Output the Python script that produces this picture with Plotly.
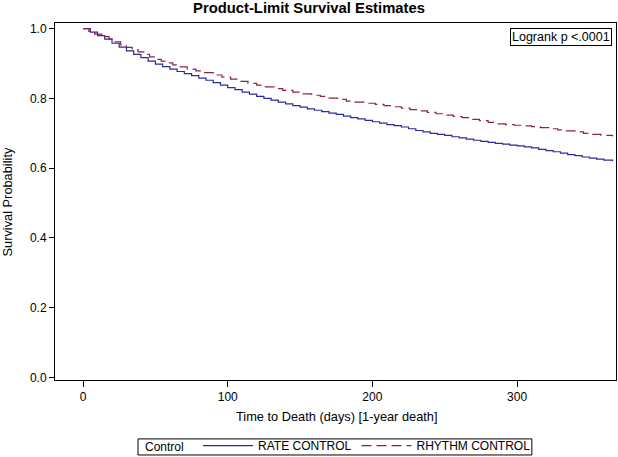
import plotly.graph_objects as go

# RATE CONTROL (solid blue) Kaplan-Meier estimates
rate_days = [0, 5, 10, 15, 20, 25, 30, 35, 40, 45, 50, 55, 60, 65, 70, 75, 80, 85, 90, 95,
             100, 105, 110, 115, 120, 125, 130, 135, 140, 145, 150, 155, 160, 165, 170, 175,
             180, 185, 190, 195, 200, 205, 210, 215, 220, 225, 230, 235, 240, 245, 250, 255,
             260, 265, 270, 275, 280, 285, 290, 295, 300, 305, 310, 315, 320, 325, 330, 335,
             340, 345, 350, 355, 360, 366]
rate_surv = [1.000, 0.990, 0.980, 0.970, 0.958, 0.947, 0.936, 0.926, 0.917, 0.907, 0.898,
             0.891, 0.884, 0.877, 0.871, 0.865, 0.858, 0.852, 0.845, 0.838, 0.831, 0.825,
             0.818, 0.812, 0.806, 0.800, 0.795, 0.789, 0.784, 0.779, 0.775, 0.770, 0.766,
             0.762, 0.758, 0.754, 0.749, 0.745, 0.741, 0.737, 0.733, 0.729, 0.725, 0.722,
             0.718, 0.713, 0.708, 0.704, 0.700, 0.697, 0.694, 0.690, 0.687, 0.683, 0.680,
             0.677, 0.674, 0.671, 0.669, 0.666, 0.664, 0.661, 0.658, 0.654, 0.650, 0.647,
             0.643, 0.639, 0.636, 0.632, 0.629, 0.626, 0.623, 0.620]

# RHYTHM CONTROL (dashed red) Kaplan-Meier estimates
rhythm_days = [0, 4, 8, 13, 18, 22, 26, 30, 34, 38, 42, 46, 50, 54, 58, 62, 66, 72, 78, 84,
               90, 96, 102, 108, 114, 120, 126, 132, 138, 145, 152, 158, 164, 170, 176, 182,
               188, 195, 202, 208, 214, 220, 226, 232, 238, 244, 250, 256, 262, 268, 274, 280,
               286, 292, 298, 304, 310, 316, 322, 328, 334, 340, 346, 352, 358, 366]
rhythm_surv = [1.000, 0.992, 0.984, 0.977, 0.970, 0.962, 0.953, 0.946, 0.940, 0.933, 0.926,
               0.919, 0.912, 0.907, 0.902, 0.896, 0.890, 0.884, 0.879, 0.874, 0.867, 0.861,
               0.855, 0.849, 0.843, 0.838, 0.833, 0.828, 0.823, 0.818, 0.813, 0.809, 0.806,
               0.801, 0.797, 0.792, 0.789, 0.786, 0.783, 0.779, 0.776, 0.772, 0.768, 0.764,
               0.760, 0.756, 0.752, 0.748, 0.745, 0.740, 0.736, 0.731, 0.727, 0.725, 0.723,
               0.721, 0.719, 0.716, 0.713, 0.710, 0.707, 0.704, 0.700, 0.697, 0.694, 0.691]

x_ticks = [0, 100, 200, 300]
y_ticks = [0.0, 0.2, 0.4, 0.6, 0.8, 1.0]

FONT = "Liberation Sans, Arial, sans-serif"

fig = go.Figure()
fig.add_trace(go.Scatter(x=rate_days, y=rate_surv, mode="lines", line_shape="hv",
                         name="RATE CONTROL", line=dict(color="#2B2B9B", width=1.2)))
fig.add_trace(go.Scatter(x=rhythm_days, y=rhythm_surv, mode="lines", line_shape="hv",
                         name="RHYTHM CONTROL",
                         line=dict(color="#8E2343", width=1.2, dash="10px,5px")))

fig.update_layout(
    width=618, height=457,
    margin=dict(l=55, r=2, t=23, b=77, autoexpand=False),
    paper_bgcolor="white", plot_bgcolor="white",
    font=dict(family=FONT, size=12, color="black"),
    title=dict(text="<b>Product-Limit Survival Estimates</b>", x=0.5, xanchor="center",
               y=0.995, yanchor="top", font=dict(size=14.8, family=FONT, color="black")),
    xaxis=dict(range=[-19.4, 368.4], tickvals=x_ticks, showgrid=False, zeroline=False,
               showline=True, linecolor="black", linewidth=1, mirror=True, automargin=False,
               ticks="outside", ticklen=6, tickcolor="black", tickfont=dict(size=12)),
    yaxis=dict(range=[-0.007, 1.016], tickvals=y_ticks, tickformat=".1f", showgrid=False,
               zeroline=False, showline=True, linecolor="black", linewidth=1, mirror=True,
               automargin=False, ticks="outside", ticklen=5, tickcolor="black",
               tickfont=dict(size=12)),
    legend=dict(orientation="h", x=0.255, xanchor="left", y=-0.143, yanchor="top",
                borderwidth=0, bgcolor="rgba(0,0,0,0)",
                font=dict(size=12), itemwidth=50, tracegroupgap=0),
    showlegend=True,
)

# axis titles
fig.add_annotation(text="Time to Death (days) [1-year death]", xref="paper", yref="paper",
                   x=0.503, y=-0.1036, xanchor="center", yanchor="middle", showarrow=False,
                   font=dict(size=12.8, family=FONT, color="black"))
fig.add_annotation(text="Survival Probability", xref="paper", yref="paper",
                   x=-0.0838, y=0.5, xanchor="center", yanchor="middle", showarrow=False,
                   textangle=-90, font=dict(size=12.8, family=FONT, color="black"))

# legend frame and its "Control" label
fig.add_shape(type="rect", xref="paper", yref="paper", x0=0.148, x1=0.850,
              y0=-0.210, y1=-0.165, line=dict(color="black", width=1), layer="below")
fig.add_annotation(text="Control", xref="paper", yref="paper", x=0.157, y=-0.1875,
                   xanchor="left", yanchor="middle", showarrow=False,
                   font=dict(size=12, family=FONT, color="black"))

fig.add_annotation(text="Logrank p <.0001", xref="paper", yref="paper", x=0.993, y=0.987,
                   xanchor="right", yanchor="top", showarrow=False,
                   bordercolor="black", borderwidth=1, borderpad=1,
                   font=dict(size=12.5, family=FONT, color="black"))

fig.write_html("out.html", config={"displayModeBar": False},
               post_script="document.body.style.margin='0';document.body.style.overflow='hidden';")
